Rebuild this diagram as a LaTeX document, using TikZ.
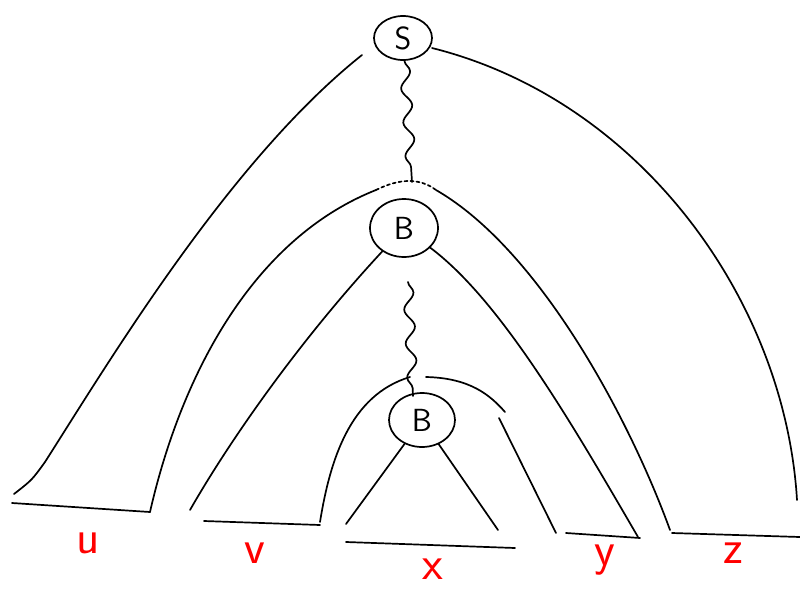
\documentclass[tikz,border=0pt]{standalone}
\usetikzlibrary{shapes.geometric,decorations.pathmorphing}
\tikzset{
  sym/.style={ellipse, draw, line width=1.7pt, inner sep=0pt,
    font=\sffamily\fontsize{32}{32}\selectfont},
  stroke/.style={line width=1.7pt, line cap=round},
  wavy/.style={stroke, decorate, decoration={snake, amplitude=5pt, segment length=34pt}},
  leaf/.style={red, font=\sffamily\fontsize{48}{48}\selectfont},
}
\begin{document}
\begin{tikzpicture}[x=1pt,y=-1pt]
\useasboundingbox (0,0) rectangle (800,592);

% variables
\node[sym, minimum width=58pt, minimum height=44pt] (s) at (403,38) {S};
\node[sym, minimum width=68pt, minimum height=58pt] (b1) at (404,228) {B};
\node[sym, minimum width=66pt, minimum height=54pt] (b2) at (422,420) {B};

% derivation chains
\coordinate (b1top) at (412,182);
\coordinate (b2top) at (413,396);
\draw[wavy] (s) -- (b1top);
\draw[wavy] (408,282) -- (b2top);

% outer tree of S
\draw[stroke] (362,55) .. controls (230,160) and (110,360) .. (45,462)
  .. controls (32,480) .. (14,494);
\draw[stroke] (432,48) .. controls (640,100) and (785,300) .. (797,500);

% tree of the upper B
\draw[stroke, dashed] (376,190) .. controls (400,178) and (420,178) .. (436,190);
\draw[stroke] (376,190) .. controls (250,240) and (180,380) .. (150,512);
\draw[stroke] (436,190) .. controls (540,250) and (630,420) .. (670,530);

% inner part of the upper B
\draw[stroke] (b1) .. controls (300,340) and (230,440) .. (190,510);
\draw[stroke] (b1) .. controls (500,300) and (570,420) .. (638,537);

% tree of the lower B
\draw[stroke] (410,377) .. controls (350,395) and (330,460) .. (320,522);
\draw[stroke] (426,377) .. controls (470,378) and (490,395) .. (505,412);
\draw[stroke] (499,418) -- (556,533);

% subtree of x
\draw[stroke] (b2) -- (346,524);
\draw[stroke] (b2) -- (498,530);

% bases of the leaves
\coordinate (ul) at (12,503);
\coordinate (ur) at (150,512);
\coordinate (vl) at (204,521);
\coordinate (vr) at (320,525);
\coordinate (xl) at (346,542);
\coordinate (xr) at (515,548);
\coordinate (yl) at (566,533);
\coordinate (yr) at (640,538);
\coordinate (zl) at (672,533);
\coordinate (zr) at (800,537);
\draw[stroke] (ul) -- (ur);
\draw[stroke] (vl) -- (vr);
\draw[stroke] (xl) -- (xr);
\draw[stroke] (yl) -- (yr);
\draw[stroke] (zl) -- (zr);

% leaf strings
\node[leaf] (u) at (88,543) {u};
\node[leaf] (v) at (255,553) {v};
\node[leaf] (x) at (433,569) {x};
\node[leaf] (y) at (605,560) {y};
\node[leaf] (z) at (733,553) {z};
\end{tikzpicture}
\end{document}
